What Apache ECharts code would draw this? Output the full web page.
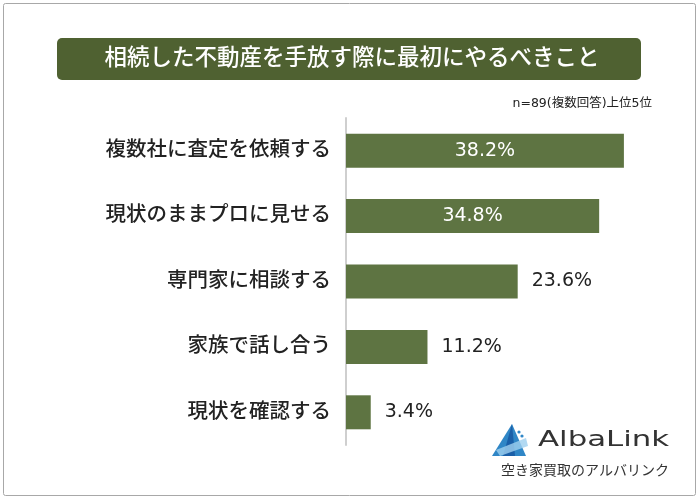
<!DOCTYPE html>
<html>
<head>
<meta charset="utf-8">
<script src="https://cdn.jsdelivr.net/npm/echarts@6/dist/echarts.min.js"></script>
<style>
  html, body { margin: 0; padding: 0; background: #fff; }
  #chart { width: 700px; height: 500px; }
</style>
</head>
<body>
<div id="chart"></div>
<script>
const categories = ['複数社に査定を依頼する', '現状のままプロに見せる', '専門家に相談する', '家族で話し合う', '現状を確認する']
const values = [38.2, 34.8, 23.6, 11.2, 3.4]
const insideLabel = [true, true, false, false, false]

const titleText = '相続した不動産を手放す際に最初にやるべきこと'
const noteText = 'n=89(複数回答)上位5位'

const font = '"DejaVu Sans", "Noto Sans CJK JP", sans-serif'
const barColor = '#5e7442'

const chart = echarts.init(document.getElementById('chart'))

chart.setOption({
  backgroundColor: '#fff',
  animation: false,
  grid: { left: 346, right: 63, top: 118, bottom: 55 },
  xAxis: {
    type: 'value', min: 0, max: 40, show: false
  },
  yAxis: {
    type: 'category',
    inverse: true,
    data: categories,
    axisLine: { show: true, lineStyle: { color: '#cfcfcf', width: 2 } },
    axisTick: { show: false },
    axisLabel: { color: '#222', fontSize: 20.5, fontWeight: 500, fontFamily: font, margin: 15 }
  },
  series: [{
    type: 'bar',
    barWidth: 34,
    data: values.map((v, i) => ({
      value: v,
      label: insideLabel[i]
        ? { position: 'inside', color: '#fff' }
        : { position: 'right', color: '#222', distance: 14 }
    })),
    itemStyle: { color: barColor },
    label: {
      show: true,
      fontSize: 19,
      fontFamily: font,
      formatter: p => p.value.toFixed(1) + '%'
    }
  }],
  graphic: [
    // outer frame
    { type: 'rect', shape: { x: 3.5, y: 3.5, width: 692, height: 492, r: 2 },
      style: { fill: 'none', stroke: '#a8a8a8', lineWidth: 1 }, z: -1 },
    // title banner
    { type: 'rect', shape: { x: 57, y: 38, width: 584, height: 42, r: 5 },
      style: { fill: '#4f6131' } },
    { type: 'text', x: 352, y: 59,
      style: { text: titleText, fill: '#fff', fontSize: 22.5, fontWeight: 500, fontFamily: font,
        align: 'center', verticalAlign: 'middle' } },
    { type: 'text', x: 652, y: 104,
      style: { text: noteText, fill: '#222', fontSize: 12.5, fontFamily: font,
        align: 'right', verticalAlign: 'middle' } },
    // logo icon
    { type: 'polygon', shape: { points: [[512, 424], [492, 456], [526, 456]] },
      style: { fill: '#2f86c6' } },
    { type: 'polygon', shape: { points: [[512, 424], [503, 456], [515, 456]] },
      style: { fill: '#1a5fa8' } },
    { type: 'polygon', shape: { points: [[496, 450], [526, 438], [528, 446], [500, 456]] },
      style: { fill: '#9fd0ef', opacity: 0.8 } },
    { type: 'circle', shape: { cx: 519, cy: 432, r: 1.6 }, style: { fill: '#2f86c6' } },
    { type: 'circle', shape: { cx: 522, cy: 436, r: 1.6 }, style: { fill: '#2f86c6' } },
    { type: 'text', x: 538, y: 440, scaleX: 1.4,
      style: { text: 'AlbaLink', fill: '#333', fontSize: 22, fontFamily: '"DejaVu Sans", sans-serif',
        align: 'left', verticalAlign: 'middle' } },
    { type: 'text', x: 585, y: 471,
      style: { text: '空き家買取のアルバリンク', fill: '#333', fontSize: 14, fontFamily: font,
        align: 'center', verticalAlign: 'middle' } }
  ]
})
</script>
</body>
</html>
